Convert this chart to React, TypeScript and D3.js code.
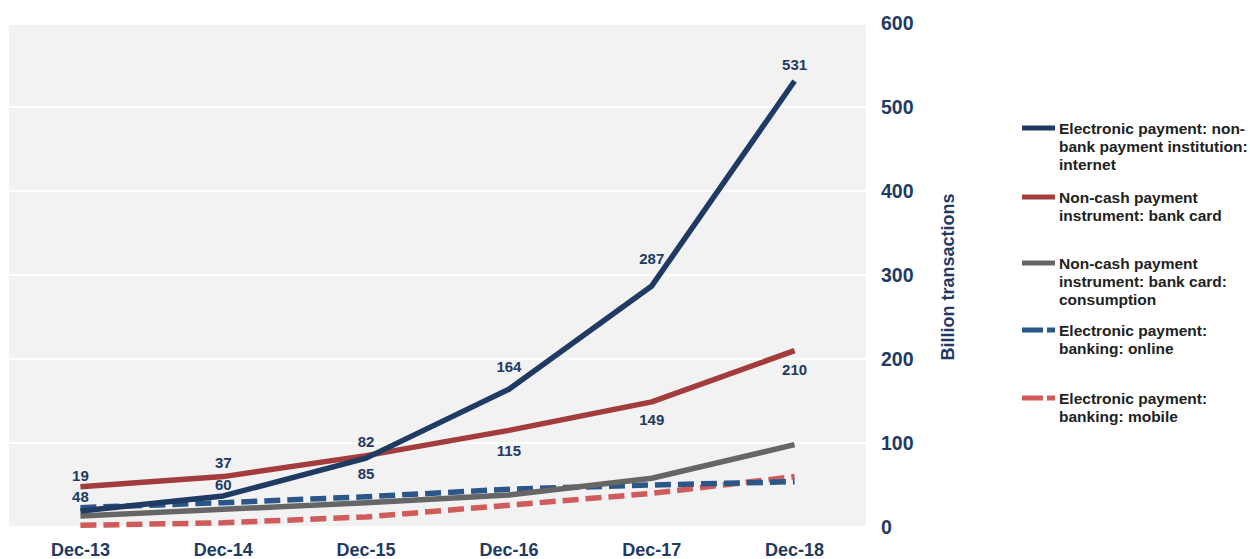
import React from "react";
import * as d3 from "d3";

const categories = ["Dec-13", "Dec-14", "Dec-15", "Dec-16", "Dec-17", "Dec-18"];
const internet = [19, 37, 82, 164, 287, 531];
const bankCard = [48, 60, 85, 115, 149, 210];
const consumption = [13, 21, 29, 38, 58, 98];
const online = [23, 29, 36, 45, 50, 54];
const mobile = [2, 5, 12, 26, 40, 60];
const yTicks = [0, 100, 200, 300, 400, 500, 600];

const internetLabelDy = [-36, -33, -17, -23, -27, -16];
const bankLabelDy = [10, 8, 18, 20, 18, 19];

const NAVY = "#1f3a63";

const series = [
  { name: ["Electronic payment: non-", "bank payment institution:", "internet"], values: internet, color: "#1f3a63", dash: null, legendY: 128 },
  { name: ["Non-cash payment", "instrument: bank card"], values: bankCard, color: "#a33c3c", dash: null, legendY: 197 },
  { name: ["Non-cash payment", "instrument: bank card:", "consumption"], values: consumption, color: "#666666", dash: null, legendY: 263 },
  { name: ["Electronic payment:", "banking: online"], values: online, color: "#2a5688", dash: "16 7", legendY: 330 },
  { name: ["Electronic payment:", "banking: mobile"], values: mobile, color: "#cf5b5b", dash: "16 7", legendY: 398 },
];

export default function App() {
  const W = 1250, H = 559;
  const x = d3.scalePoint<string>().domain(categories).range([9, 866]).padding(0.5);
  const y = d3.scaleLinear().domain([0, 600]).range([527, 23]);
  const line = d3.line<number>().x((_, i) => x(categories[i])!).y((d) => y(d));
  const font = "'Liberation Sans', Arial, sans-serif";
  const drawOrder = [4, 3, 2, 1, 0];

  return (
    <svg width={W} height={H} style={{ position: "absolute", left: 0, top: 0 }} fontFamily={font}>
      <rect x={9} y={y(600) + 2} width={857} height={y(0) - y(600) - 3} fill="#f2f2f2" />
      {yTicks.slice(1, -1).map((t) => (
        <line key={t} x1={9} x2={866} y1={y(t)} y2={y(t)} stroke="#ffffff" strokeWidth={2} />
      ))}
      {drawOrder.map((si) => {
        const s = series[si];
        return (
          <path key={si} d={line(s.values)!} fill="none" stroke={s.color} strokeWidth={5.5}
            strokeDasharray={s.dash ?? undefined} strokeLinejoin="round" />
        );
      })}
      {internet.map((v, i) => (
        <text key={"a" + i} x={x(categories[i])!} y={y(v) + internetLabelDy[i]} textAnchor="middle"
          dominantBaseline="central" fontSize={15} fontWeight="bold" fill={NAVY}>{v}</text>
      ))}
      {bankCard.map((v, i) => (
        <text key={"b" + i} x={x(categories[i])!} y={y(v) + bankLabelDy[i]} textAnchor="middle"
          dominantBaseline="central" fontSize={15} fontWeight="bold" fill={NAVY}>{v}</text>
      ))}
      {categories.map((c) => (
        <text key={c} x={x(c)!} y={550} textAnchor="middle" dominantBaseline="central"
          fontSize={18} fontWeight="bold" fill={NAVY}>{c}</text>
      ))}
      {yTicks.map((t) => (
        <text key={t} x={881} y={y(t)} dominantBaseline="central" fontSize={19.5} fontWeight="bold" fill={NAVY}>{t}</text>
      ))}
      <text transform={`translate(948,277) rotate(-90)`} textAnchor="middle" dominantBaseline="central"
        fontSize={18} fontWeight="bold" fill={NAVY}>Billion transactions</text>
      {series.map((s, si) => (
        <g key={"l" + si}>
          <line x1={1022} x2={1055} y1={s.legendY} y2={s.legendY} stroke={s.color} strokeWidth={5}
            strokeDasharray={s.dash ? "21 4 8" : undefined} />
          {s.name.map((ln, li) => (
            <text key={li} x={1059} y={s.legendY + li * 18} dominantBaseline="central" fontSize={15.5}
              fontWeight="bold" fill="#222222">{ln}</text>
          ))}
        </g>
      ))}
    </svg>
  );
}
